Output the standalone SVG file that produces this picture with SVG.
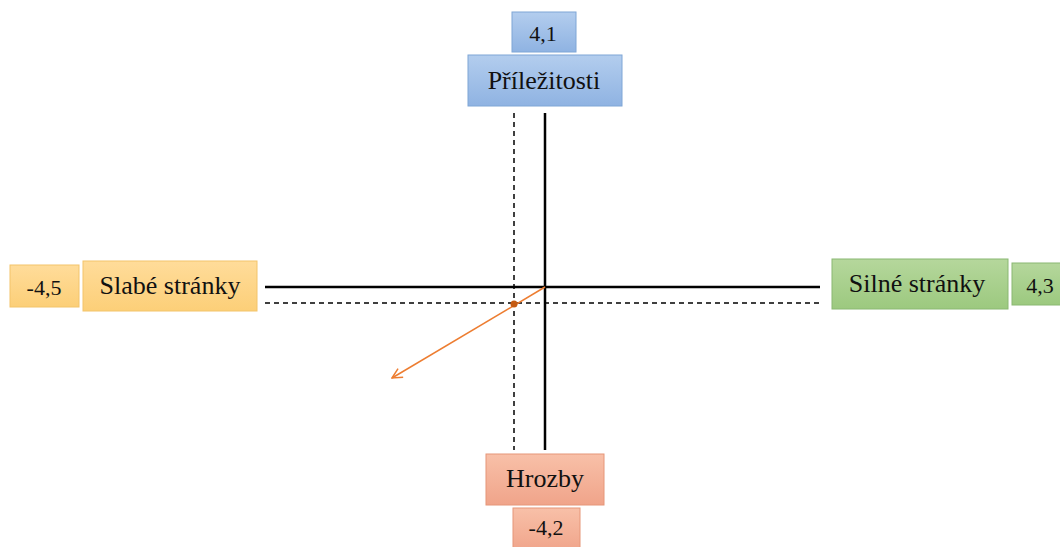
<svg xmlns="http://www.w3.org/2000/svg" width="1060" height="547" viewBox="0 0 1060 547">
<defs>
<linearGradient id="gb" x1="0" y1="0" x2="0" y2="1"><stop offset="0" stop-color="#b3cdee"/><stop offset="1" stop-color="#8fb3e2"/></linearGradient>
<linearGradient id="gy" x1="0" y1="0" x2="0" y2="1"><stop offset="0" stop-color="#ffdc9a"/><stop offset="1" stop-color="#fccf78"/></linearGradient>
<linearGradient id="gg" x1="0" y1="0" x2="0" y2="1"><stop offset="0" stop-color="#b5d79c"/><stop offset="1" stop-color="#9cc97f"/></linearGradient>
<linearGradient id="gr" x1="0" y1="0" x2="0" y2="1"><stop offset="0" stop-color="#f8c0a8"/><stop offset="1" stop-color="#f0a48a"/></linearGradient>
<marker id="ah" viewBox="0 0 12 12" refX="11" refY="6" markerWidth="12" markerHeight="12" markerUnits="userSpaceOnUse" orient="auto"><path d="M1,1 L11,6 L1,11" fill="none" stroke="#ed7d31" stroke-width="1.5"/></marker>
</defs>
<style>
text{font-family:"Liberation Serif","Times New Roman",serif;fill:#111;text-anchor:middle;dominant-baseline:central}
.l{font-size:26px}.n{font-size:22px}
.b{fill:url(#gb);stroke:#7fa6d6;stroke-width:1}
.y{fill:url(#gy);stroke:#f3c46a;stroke-width:1}
.g{fill:url(#gg);stroke:#8ab872;stroke-width:1}
.r{fill:url(#gr);stroke:#e69678;stroke-width:1}
.s{stroke:#000;stroke-width:2.5;fill:none}
.d{stroke:#000;stroke-width:1.5;stroke-dasharray:5,4;fill:none}
</style>
<rect width="1060" height="547" fill="#fff"/>
<g id="connectors">
<line class="s" x1="265" y1="287" x2="820" y2="287"/>
<line class="s" x1="545" y1="113" x2="545" y2="450"/>
<line class="d" x1="265" y1="303" x2="820" y2="303"/>
<line class="d" x1="514" y1="113" x2="514" y2="450"/>
<line x1="545" y1="287" x2="392" y2="378" stroke="#ed7d31" stroke-width="1.5" marker-end="url(#ah)"/>
<circle cx="514" cy="304" r="3.5" fill="#c55a11"/>
</g>
<g id="n-val-o"><rect class="b" x="512" y="12" width="64" height="40"/><text class="n" x="543" y="33">4,1</text></g>
<g id="n-o"><rect class="b" x="468" y="55" width="154" height="51"/><text class="l" x="544" y="80">Příležitosti</text></g>
<g id="n-val-w"><rect class="y" x="10" y="265" width="69" height="42"/><text class="n" x="44" y="287">-4,5</text></g>
<g id="n-w"><rect class="y" x="83" y="261" width="174" height="50"/><text class="l" x="170" y="285">Slabé stránky</text></g>
<g id="n-s"><rect class="g" x="832" y="259" width="176" height="50"/><text class="l" x="917" y="283">Silné stránky</text></g>
<g id="n-val-s"><rect class="g" x="1012" y="263" width="52" height="42"/><text class="n" x="1040" y="285">4,3</text></g>
<g id="n-t"><rect class="r" x="486" y="454" width="118" height="51"/><text class="l" x="545" y="478">Hrozby</text></g>
<g id="n-val-t"><rect class="r" x="513" y="508" width="67" height="44"/><text class="n" x="546" y="527">-4,2</text></g>
</svg>
